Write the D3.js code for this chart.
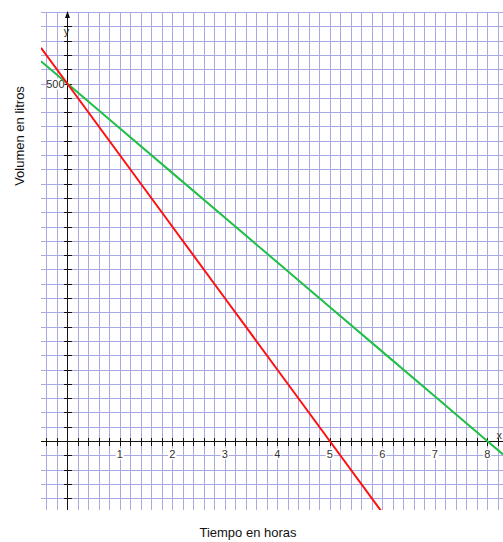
<!DOCTYPE html>
<html>
<head>
<meta charset="utf-8">
<script src="https://cdn.jsdelivr.net/npm/d3@7"></script>
<style>
  html, body { margin: 0; padding: 0; background: #ffffff; }
  svg { display: block; }
  text { font-family: "Liberation Sans", Arial, sans-serif; }
</style>
</head>
<body>
<div id="chart"></div>
<script>
// Tiempo (horas) y volumen (litros) de los dos depósitos
const tiempoRojo = [-0.5, 0, 1, 2, 3, 4, 5, 6];
const volumenRojo = [550, 500, 400, 300, 200, 100, 0, -100];
const tiempoVerde = [-0.5, 0, 1, 2, 3, 4, 5, 6, 7, 8, 8.3];
const volumenVerde = [531.25, 500, 437.5, 375, 312.5, 250, 187.5, 125, 62.5, 0, -18.75];

// Etiquetas de los ejes
const etiquetasX = [1, 2, 3, 4, 5, 6, 7, 8];
const etiquetasY = [500];

const W = 503, H = 542;
const svg = d3.select("#chart").append("svg")
  .attr("width", W).attr("height", H);

const x = d3.scaleLinear().domain([-0.5, 8.3]).range([41, 503]);
const y = d3.scaleLinear().domain([-96.5, 600]).range([510, 12]);

const gridColor = "#a9a9e4";

// Cuadrícula: cada 0.2 h y cada 20 litros
const gx = d3.range(-2, 42).map(i => i * 0.2);
const gy = d3.range(-4, 31).map(i => i * 20);

const grid = svg.append("g").attr("shape-rendering", "crispEdges");
grid.selectAll("line.v").data(gx).join("line")
  .attr("class", "v")
  .attr("x1", d => Math.round(x(d)) + 0.5).attr("x2", d => Math.round(x(d)) + 0.5)
  .attr("y1", y(600)).attr("y2", y(-96.5))
  .attr("stroke", gridColor).attr("stroke-width", 1);
grid.selectAll("line.h").data(gy).join("line")
  .attr("class", "h")
  .attr("y1", d => Math.round(y(d)) + 0.5).attr("y2", d => Math.round(y(d)) + 0.5)
  .attr("x1", x(-0.5)).attr("x2", W)
  .attr("stroke", gridColor).attr("stroke-width", 1);

// Ejes
const axisColor = "#111";
const x0 = Math.round(x(0)) + 0.5;
const y0 = Math.round(y(0)) + 0.5;
const axes = svg.append("g").attr("shape-rendering", "crispEdges");
axes.append("line").attr("x1", x(-0.5)).attr("x2", W).attr("y1", y0).attr("y2", y0)
  .attr("stroke", axisColor).attr("stroke-width", 1.2);
axes.append("line").attr("x1", x0).attr("x2", x0).attr("y1", y(-96.5)).attr("y2", y(600) + 2)
  .attr("stroke", axisColor).attr("stroke-width", 1.2);

// Marcas del eje X cada 0.2 h
axes.selectAll("line.tx").data(gx.filter(d => Math.abs(d) > 1e-9)).join("line")
  .attr("class", "tx")
  .attr("x1", d => Math.round(x(d)) + 0.5).attr("x2", d => Math.round(x(d)) + 0.5)
  .attr("y1", y0 - 4).attr("y2", y0 + 4)
  .attr("stroke", axisColor).attr("stroke-width", 1.2);
// Marcas del eje Y cada 20 litros
axes.selectAll("line.ty").data(gy.filter(d => d !== 0 && d < 600)).join("line")
  .attr("class", "ty")
  .attr("y1", d => Math.round(y(d)) + 0.5).attr("y2", d => Math.round(y(d)) + 0.5)
  .attr("x1", x0 - 4).attr("x2", x0 + 4)
  .attr("stroke", axisColor).attr("stroke-width", 1.2);

// Flecha del eje Y
svg.append("path")
  .attr("d", `M${x0},${y(600) - 1} L${x0 - 2.5},${y(600) + 6} L${x0 + 2.5},${y(600) + 6} Z`)
  .attr("fill", axisColor);

// Rótulos numéricos con fondo blanco
const labelFont = 11;
const xl = svg.append("g");
etiquetasX.forEach(v => {
  const cx = x(v), cy = y0 + 16;
  xl.append("rect").attr("x", cx - 4).attr("y", cy - 9).attr("width", 8).attr("height", 11)
    .attr("fill", "#fff");
  xl.append("text").attr("x", cx).attr("y", cy)
    .attr("text-anchor", "middle").attr("font-size", labelFont).attr("fill", "#333")
    .text(v);
});
etiquetasY.forEach(v => {
  const cy = y(v) + 4;
  xl.append("rect").attr("x", x0 - 20).attr("y", cy - 9).attr("width", 17).attr("height", 11)
    .attr("fill", "#fff");
  xl.append("text").attr("x", x0 - 3).attr("y", cy)
    .attr("text-anchor", "end").attr("font-size", labelFont).attr("fill", "#333")
    .text(v);
});
svg.append("text").attr("x", x0 - 1).attr("y", y(600) + 23)
  .attr("text-anchor", "middle").attr("font-size", 11).attr("fill", "#333").text("y");
svg.append("text").attr("x", W - 1).attr("y", y0 - 3)
  .attr("text-anchor", "end").attr("font-size", 11).attr("fill", "#333").text("x");

// Rectas
svg.append("defs").append("clipPath").attr("id", "plot")
  .append("rect").attr("x", x(-0.5)).attr("y", y(600)).attr("width", W - x(-0.5)).attr("height", y(-96.5) - y(600));

const line = d3.line().x(d => x(d[0])).y(d => y(d[1]));
const plot = svg.append("g").attr("clip-path", "url(#plot)");
plot.append("path")
  .datum(d3.zip(tiempoVerde, volumenVerde))
  .attr("d", line).attr("fill", "none")
  .attr("stroke", "#1fbf45").attr("stroke-width", 2);
plot.append("path")
  .datum(d3.zip(tiempoRojo, volumenRojo))
  .attr("d", line).attr("fill", "none")
  .attr("stroke", "#ff1010").attr("stroke-width", 2);

// Títulos de los ejes
svg.append("text").attr("x", 248).attr("y", 537)
  .attr("text-anchor", "middle").attr("font-size", 13).attr("fill", "#111")
  .text("Tiempo en horas");
svg.append("text")
  .attr("transform", "translate(24,136) rotate(-90)")
  .attr("text-anchor", "middle").attr("font-size", 13).attr("fill", "#111")
  .text("Volumen en litros");
</script>
</body>
</html>
